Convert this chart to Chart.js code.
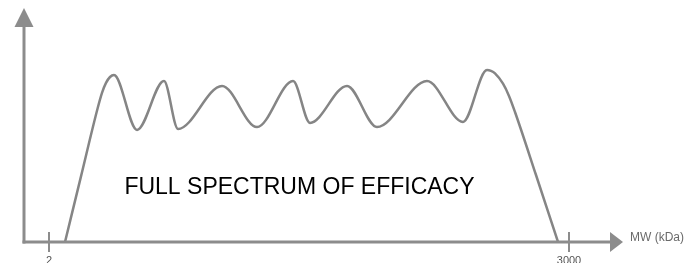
<!DOCTYPE html>
<html>
<head>
<meta charset="utf-8">
<script src="https://cdn.jsdelivr.net/npm/chart.js@4.4.1/dist/chart.umd.min.js"></script>
<style>
  html, body { margin: 0; padding: 0; background: #fff; }
  #wrap { width: 687px; height: 263px; }
</style>
</head>
<body>
<div id="wrap"><canvas id="spectrum" width="687" height="263"></canvas></div>
<script>
// molecular weight (kDa, log axis) and relative activity
const mw = [2.505, 3.137, 3.957, 4.215, 4.459, 4.717, 4.99, 6.90, 10.08, 12.28, 22.8, 37.3, 61.9, 78.6, 132.3, 201.7, 407.5, 676,
            947.7, 1002.5, 1060.6, 1187, 1291.3, 1404.9, 1888, 2573];
const activity = [0, 28.03, 56.92, 63.72, 67.99, 70.51, 71.37, 47.9, 68.8, 48.3, 66.7, 49.1, 68.8, 50.9, 66.7, 49.1, 68.8, 51.3,
                  73.5, 73.12, 72.05, 67.65, 62.44, 55.56, 28.63, 0];
const tickValues = [2, 3000];
const tickLabels = ['2', '3000'];
const axisTitle = 'MW (kDa)';
const caption = 'FULL SPECTRUM OF EFFICACY';

const axisColor = '#8c8c8c';

const arrowAxes = {
  id: 'arrowAxes',
  afterDraw(chart) {
    const ctx = chart.ctx;
    const x = chart.scales.x, y = chart.scales.y;
    const left = chart.chartArea.left, bottom = chart.chartArea.bottom;
    const top = chart.chartArea.top, right = chart.chartArea.right;
    ctx.save();
    ctx.strokeStyle = axisColor;
    ctx.fillStyle = axisColor;
    ctx.lineWidth = 3;
    // y axis
    ctx.beginPath();
    ctx.moveTo(left, bottom + 1.5);
    ctx.lineTo(left, top + 18);
    ctx.stroke();
    ctx.beginPath();
    ctx.moveTo(left, top);
    ctx.lineTo(left - 9.5, top + 19);
    ctx.lineTo(left + 9.5, top + 19);
    ctx.closePath();
    ctx.fill();
    // x axis
    ctx.beginPath();
    ctx.moveTo(left - 1.5, bottom);
    ctx.lineTo(right + 1, bottom);
    ctx.stroke();
    ctx.beginPath();
    ctx.moveTo(right + 13, bottom);
    ctx.lineTo(right, bottom - 10);
    ctx.lineTo(right, bottom + 10);
    ctx.closePath();
    ctx.fill();
    // ticks
    ctx.lineWidth = 2;
    ctx.font = '11px "Liberation Sans", Arial, sans-serif';
    ctx.textAlign = 'center';
    ctx.textBaseline = 'top';
    tickValues.forEach((v, i) => {
      const px = Math.round(x.getPixelForValue(v));
      ctx.strokeStyle = axisColor;
      ctx.beginPath();
      ctx.moveTo(px, bottom - 10);
      ctx.lineTo(px, bottom + 10);
      ctx.stroke();
      ctx.fillStyle = '#555';
      ctx.fillText(tickLabels[i], px, bottom + 13);
    });
    // axis title
    ctx.fillStyle = '#6a6a6a';
    ctx.textAlign = 'left';
    ctx.textBaseline = 'middle';
    ctx.font = '12px "Liberation Sans", Arial, sans-serif';
    ctx.fillText(axisTitle, right + 20, bottom - 4);
    // caption
    ctx.fillStyle = '#000';
    ctx.textAlign = 'center';
    ctx.textBaseline = 'alphabetic';
    ctx.font = '23px "Liberation Sans", Arial, sans-serif';
    ctx.fillText(caption, x.getPixelForValue(67.8), y.getPixelForValue(20.5));
    ctx.restore();
  }
};

new Chart(document.getElementById('spectrum'), {
  type: 'line',
  data: {
    datasets: [{
      data: mw.map((m, i) => ({ x: m, y: activity[i] })),
      borderColor: '#858585',
      borderWidth: 2.5,
      pointRadius: 0,
      cubicInterpolationMode: 'monotone',
      fill: false
    }]
  },
  options: {
    responsive: false,
    animation: false,
    layout: { padding: { left: 24, top: 8, right: 77, bottom: 21 } },
    plugins: { legend: { display: false }, tooltip: { enabled: false } },
    scales: {
      x: { type: 'logarithmic', min: 1.4071, max: 5346, display: false },
      y: { type: 'linear', min: 0, max: 100, display: false }
    }
  },
  plugins: [arrowAxes]
});
</script>
</body>
</html>
